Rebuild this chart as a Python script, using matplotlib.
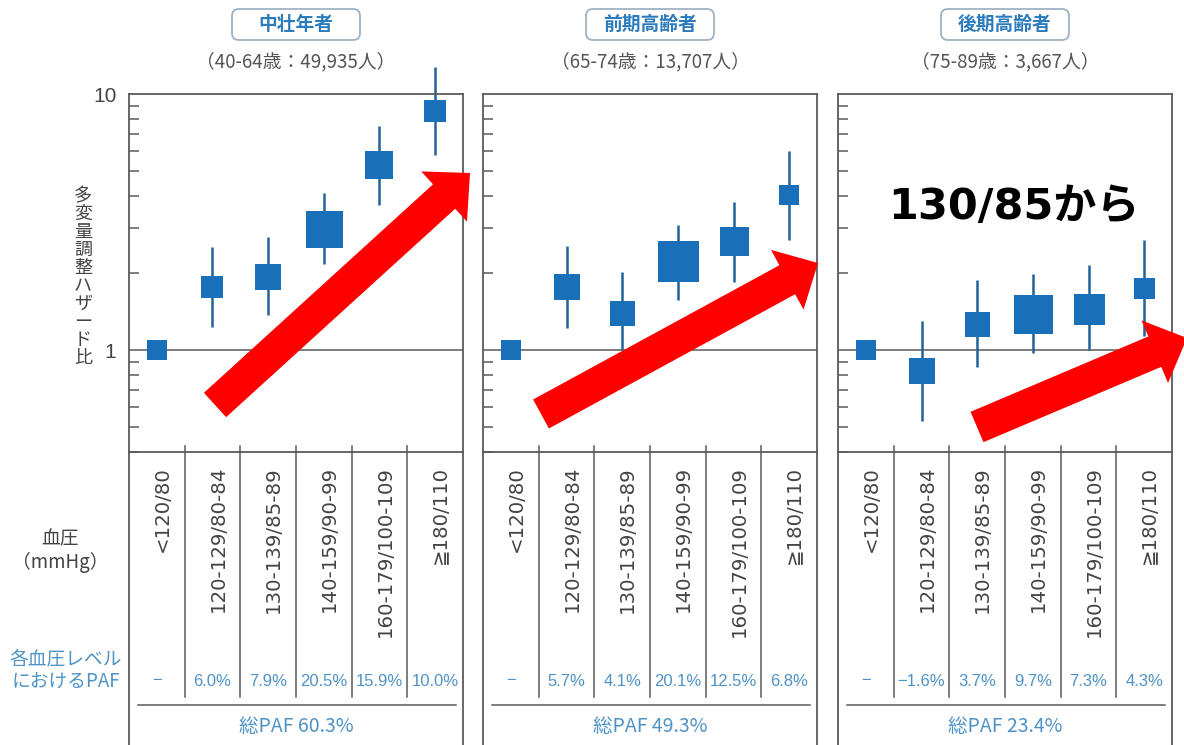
import numpy as np
import matplotlib
matplotlib.use("Agg")
import matplotlib.pyplot as plt
from matplotlib.ticker import LogLocator, NullFormatter, FixedLocator, FixedFormatter
from matplotlib.patches import FancyBboxPatch, FancyArrow

plt.rcParams['font.family'] = ['Noto Sans CJK JP', 'DejaVu Sans']

# blood pressure categories (mmHg)
categories = ["<120/80", "120-129/80-84", "130-139/85-89",
              "140-159/90-99", "160-179/100-109", "≧180/110"]

groups = ["中壮年者", "前期高齢者", "後期高齢者"]
subtitles = ["（40-64歳：49,935人）", "（65-74歳：13,707人）", "（75-89歳：3,667人）"]

# multivariable-adjusted hazard ratios with 95% CI
hr_mid = [1.0, 1.76, 1.93, 2.97, 5.26, 8.6]
lo_mid = [None, 1.23, 1.37, 2.17, 3.68, 5.78]
hi_mid = [None, 2.52, 2.76, 4.12, 7.52, 12.8]

hr_early = [1.0, 1.76, 1.40, 2.22, 2.66, 4.02]
lo_early = [None, 1.215, 1.0, 1.57, 1.85, 2.69]
hi_early = [None, 2.55, 2.02, 3.08, 3.80, 6.0]

hr_late = [1.0, 0.828, 1.27, 1.38, 1.45, 1.74]
lo_late = [None, 0.53, 0.86, 0.97, 1.0, 1.13]
hi_late = [None, 1.30, 1.88, 1.99, 2.15, 2.69]

# square size in pixels (weight of each estimate)
box_mid = [20, 23, 27, 37, 28, 22]
box_early = [20, 26, 25, 41, 29, 20]
box_late = [20, 27, 25, 39, 31, 21]

paf_mid = ["−", "6.0%", "7.9%", "20.5%", "15.9%", "10.0%"]
paf_early = ["−", "5.7%", "4.1%", "20.1%", "12.5%", "6.8%"]
paf_late = ["−", "−1.6%", "3.7%", "9.7%", "7.3%", "4.3%"]
paf_total = ["総PAF 60.3%", "総PAF 49.3%", "総PAF 23.4%"]

hr_all = [hr_mid, hr_early, hr_late]
lo_all = [lo_mid, lo_early, lo_late]
hi_all = [hi_mid, hi_early, hi_late]
box_all = [box_mid, box_early, box_late]
paf_all = [paf_mid, paf_early, paf_late]

W, H = 1184, 745
fig = plt.figure(figsize=(W / 100, H / 100), dpi=100)
fig.patch.set_facecolor("white")

BLUE = "#1a70b8"
WHISK = "#236296"
FRAME = "#5a5a5a"
GREY_TXT = "#444444"
LBLUE = "#4f93c6"
LATIN = ["Liberation Sans", "Noto Sans CJK JP"]

panel_left = [129, 483, 838]
panel_w = 334
top_px, bot_px = 94, 452
ax_h = bot_px - top_px


def py(y):
    # pixel row -> axes fraction for the panel axes
    return (bot_px - y) / ax_h


# overlay in pixel coordinates (header boxes, arrows, note)
ov = fig.add_axes([0, 0, 1, 1], facecolor="none", zorder=5)
ov.set_xlim(0, W)
ov.set_ylim(H, 0)
ov.axis("off")

for k in range(3):
    ax = fig.add_axes([panel_left[k] / W, (H - bot_px) / H, panel_w / W, ax_h / H])
    ax.set_yscale("log")
    ax.set_ylim(0.4, 10)
    ax.set_xlim(-0.5, 5.5)
    x = np.arange(len(categories))

    ax.axhline(1.0, color=FRAME, lw=1.1, zorder=1)

    for i in x:
        if lo_all[k][i] is not None:
            ax.plot([i, i], [lo_all[k][i], hi_all[k][i]], color=WHISK, lw=1.8,
                    solid_capstyle="butt", zorder=2, clip_on=False)
        ax.plot(i, hr_all[k][i], marker="s", ms=box_all[k][i] * 0.72,
                mfc=BLUE, mec=BLUE, mew=0, ls="none", zorder=3, clip_on=False)

    for s in ax.spines.values():
        s.set_color(FRAME)
        s.set_linewidth(1.3)
    ax.set_xticks([])
    ax.yaxis.set_major_locator(FixedLocator([1, 10]))
    if k == 0:
        ax.yaxis.set_major_formatter(FixedFormatter(["1", "10"]))
    else:
        ax.yaxis.set_major_formatter(NullFormatter())
    ax.yaxis.set_minor_locator(LogLocator(base=10, subs=np.arange(2, 10)))
    ax.yaxis.set_minor_formatter(NullFormatter())
    ax.tick_params(axis="y", which="major", length=0, pad=9,
                   labelsize=15, labelcolor=GREY_TXT)
    for t in ax.get_yticklabels():
        t.set_family(LATIN)
    ax.tick_params(axis="y", which="minor", direction="in", length=7,
                   width=1.1, color=FRAME)

    xt = ax.get_xaxis_transform()
    # outer frame continues down through the table
    for xe in (-0.5, 5.5):
        ax.plot([xe, xe], [0, py(H + 5)], transform=xt, color=FRAME,
                lw=1.3, clip_on=False)
    # column separators
    for xb in np.arange(0.5, 5.5, 1.0):
        ax.plot([xb, xb], [py(446), py(697)], transform=xt, color=FRAME,
                lw=1.1, clip_on=False)
    ax.plot([-0.34, 5.37], [py(705), py(705)], transform=xt, color=FRAME,
            lw=1.1, clip_on=False)

    for i, lab in enumerate(categories):
        ax.text(i + 0.1, py(466), lab, transform=xt, rotation=90, ha="center",
                va="top", fontsize=14.2, color=GREY_TXT, clip_on=False,
                family=["DejaVu Sans", "Noto Sans CJK JP"])
        ax.text(i, py(681), paf_all[k][i], transform=xt, ha="center",
                va="center", fontsize=12, color=LBLUE, clip_on=False,
                family=LATIN)
    ax.text(2.5, py(726), paf_total[k], transform=xt, ha="center",
            va="center", fontsize=14, color=LBLUE, clip_on=False)

    # group header box and subtitle
    cx = panel_left[k] + panel_w / 2
    ov.add_patch(FancyBboxPatch((cx - 64, 9), 128, 31,
                                boxstyle="round,pad=0,rounding_size=7",
                                fc="white", ec="#9fb2c2", lw=1.3))
    ov.text(cx, 24, groups[k], ha="center", va="center", fontsize=13.5,
            fontweight="bold", color="#2b7bbd")
    ax.text(0.5, py(62), subtitles[k], transform=ax.transAxes, ha="center",
            va="center", fontsize=13.5, color="#555555", clip_on=False)

# left-hand labels
fig.text(83 / W, 1 - 277 / H, "\n".join("多変量調整ハザード比"), ha="center",
         va="center", fontsize=13, color=GREY_TXT, linespacing=1.0)
fig.text(60 / W, 1 - 551 / H, "血圧\n（mmHg）", ha="center", va="center",
         fontsize=13.5, color=GREY_TXT, linespacing=1.15)
fig.text(66 / W, 1 - 671 / H, "各血圧レベル\nにおけるPAF", ha="center",
         va="center", fontsize=13.5, color=LBLUE, linespacing=1.15)

arrows = [((215, 405), (470, 173)), ((541, 414), (818, 263)), ((977, 427), (1187, 338))]
for (x0, y0), (x1, y1) in arrows:
    ov.add_patch(FancyArrow(x0, y0, x1 - x0, y1 - y0, width=33, head_width=68,
                            head_length=35, length_includes_head=True,
                            color="#ff0000", lw=0, zorder=10))

ov.text(1014, 207, "130/85から", ha="center", va="center", fontsize=31,
        fontweight="bold", color="black", zorder=11,
        family=["DejaVu Sans", "Noto Sans CJK JP"])

fig.savefig("out.png", dpi=100)
